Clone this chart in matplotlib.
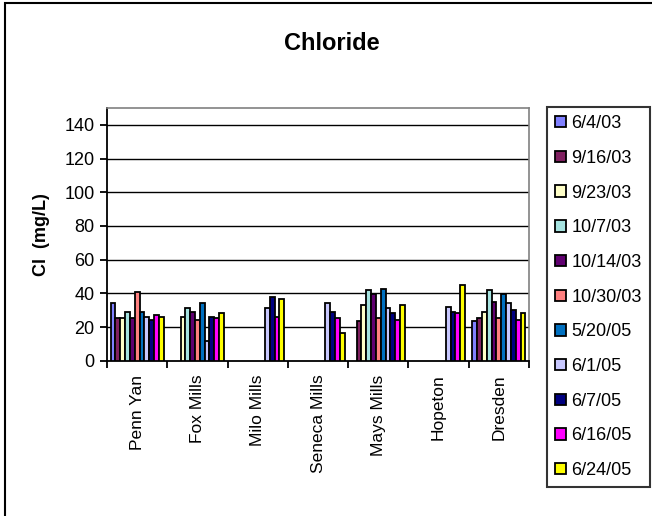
import numpy as np
import matplotlib
matplotlib.use("Agg")
from matplotlib import pyplot as plt
from matplotlib.patches import Rectangle

plt.rcParams['font.family'] = ['Liberation Sans', 'DejaVu Sans']

sites = ["Penn Yan", "Fox Mills", "Milo Mills", "Seneca Mills", "Mays Mills", "Hopeton", "Dresden"]
dates = ["6/4/03", "9/16/03", "9/23/03", "10/7/03", "10/14/03", "10/30/03",
         "5/20/05", "6/1/05", "6/7/05", "6/16/05", "6/24/05"]
colors = ["#8080FF", "#802060", "#FFFFC8", "#A6E3E0", "#600070", "#FF8080",
          "#0070C0", "#C8C8FF", "#000080", "#FF00FF", "#FFFF00"]

nan = np.nan
# chloride values (mg/L), one list per sampling date, in site order
d_060403 = [34.3, nan, nan, nan, nan, nan, 23.6]
d_091603 = [25.4, nan, nan, nan, 23.6, nan, 25.4]
d_092303 = [25.4, 25.8, nan, nan, 33.1, nan, 29.0]
d_100703 = [29.0, 31.3, nan, nan, 42.0, nan, 42.0]
d_101403 = [25.4, 29.0, nan, nan, 39.3, nan, 34.9]
d_103003 = [40.9, 24.2, nan, nan, 25.4, nan, 25.4]
d_052005 = [29.0, 34.3, nan, nan, 42.7, nan, 39.7]
d_060105 = [25.8, 11.5, 31.3, 34.3, 31.3, 31.7, 34.3]
d_060705 = [24.2, 25.8, 37.9, 29.0, 28.2, 29.0, 30.2]
d_061605 = [27.2, 25.4, 25.8, 25.4, 24.2, 28.2, 24.2]
d_062405 = [25.8, 28.2, 36.5, 16.5, 33.1, 45.0, 28.2]
series = [d_060403, d_091603, d_092303, d_100703, d_101403, d_103003,
          d_052005, d_060105, d_060705, d_061605, d_062405]

fig = plt.figure(figsize=(6.52, 5.16), dpi=100)
ax = fig.add_axes([107/652, 1-360.7/516, 422/652, 252.7/516])

n = len(series)
gap = 1.5
w = 1.0 / (n + gap)
x0 = np.arange(len(sites))
handles = []
for k, (vals, c, lab) in enumerate(zip(series, colors, dates)):
    vals = np.array(vals, dtype=float)
    xs = x0 + gap * w / 2 + k * w
    m = ~np.isnan(vals)
    ax.bar(xs[m], vals[m], width=w, align='edge', color=c, edgecolor='black',
           linewidth=1.3, zorder=3)
    handles.append(Rectangle((0, 0), 1, 1, facecolor=c, edgecolor='black',
                             linewidth=1.3, label=lab))

ax.set_xlim(0, len(sites))
ax.set_ylim(0, 150)
ax.set_yticks(range(0, 141, 20))
ax.set_xticks(range(0, len(sites) + 1))
ax.set_xticklabels([])
ax.set_xticks(x0 + 0.5, minor=True)
ax.set_xticklabels(sites, minor=True, rotation=90, fontsize=12.5)
ax.tick_params(axis='x', which='minor', length=0, pad=10)
ax.tick_params(axis='x', which='major', length=5, width=1.3, direction='out')
ax.tick_params(axis='y', length=5, width=1.3, direction='out', labelsize=13, pad=4)
for v in range(20, 141, 20):
    ax.axhline(v, color='black', linewidth=1.0, zorder=1)

for s in ['left', 'bottom']:
    ax.spines[s].set_color('black')
    ax.spines[s].set_linewidth(1.3)
for s in ['top', 'right']:
    ax.spines[s].set_color('#808080')
    ax.spines[s].set_linewidth(1.2)

ax.set_ylabel("Cl  (mg/L)", fontsize=13, fontweight='bold', labelpad=10)
fig.text(332/652, 1-43/516, "Chloride", ha='center', va='center',
         fontsize=17, fontweight='bold')

leg = fig.legend(handles=handles, loc='upper left', bbox_to_anchor=(547/652, 1-107/516),
                 fontsize=13, frameon=True, fancybox=False, handlelength=0.6,
                 handleheight=0.6, handletextpad=0.3, labelspacing=0.98,
                 borderpad=0.45, borderaxespad=0)
leg.get_frame().set_edgecolor('black')
leg.get_frame().set_linewidth(1.5)

fig.patches.append(Rectangle((5/652, -0.05), 1.1, 1.05 - 3/516,
                             transform=fig.transFigure, fill=False,
                             edgecolor='black', linewidth=1.5))

fig.savefig("out.png", dpi=100)
